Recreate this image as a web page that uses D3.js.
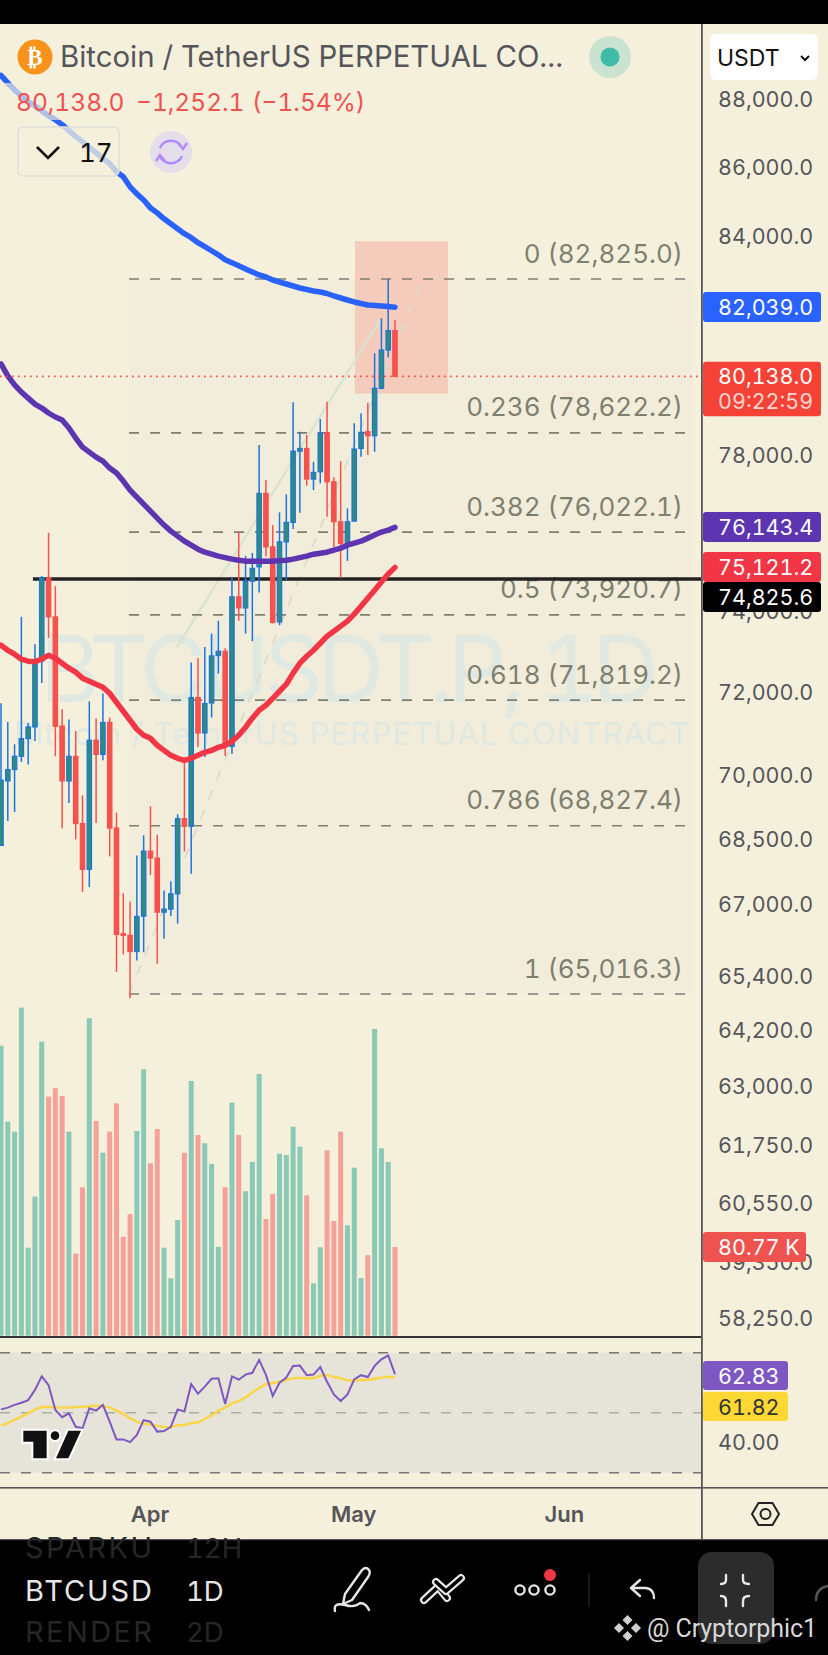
<!DOCTYPE html>
<html>
<head>
<meta charset="utf-8">
<script src="https://cdn.jsdelivr.net/npm/d3@7/dist/d3.min.js"></script>
<style>
  html, body { margin: 0; padding: 0; background: #000; }
  svg { display: block; font-family: Inter, "Noto Sans", sans-serif; font-variant-numeric: tabular-nums; font-feature-settings: "tnum" 1; }
</style>
</head>
<body>
<div id="chart"></div>
<script>
"use strict";

// daily candles, first one is Mar 10
var firstDay = new Date(Date.UTC(2026, 2, 10));
var openPrices = [68370,69880,70150,70465,70890,71170,72780,74855,73870,71190,69880,70465,68880,67820,70850,70510,71280,68775,66357,66320,65959,66754,68239,68078,66844,66912,67259,68994,68815,71880,71025,71749,72911,73016,70703,74373,74097,74771,75134,77025,75643,73747,75772,76273,78136,78207,77400,77592,78624,77330,76289,75731,76307,78207,78651,78544,79816,80857,81390];
var highPrices = [71740,71290,70752,73872,71266,73191,74898,76005,74644,71597,71348,71073,69540,71790,71372,71978,71396,69134,67276,67085,68140,68605,69281,68621,67337,67544,69095,70329,72739,72852,73123,73458,73772,73091,74865,76016,75413,75489,78296,77374,76204,76531,76999,79437,78651,78563,77855,78990,79453,77445,77873,76635,78875,79143,79426,80767,81733,82825,81686];
var lowPrices = [68370,68938,69148,70329,70268,70832,72239,73348,70465,68761,69358,68512,67298,67413,68892,70370,68117,65500,65892,64923,65759,65943,67691,65686,66244,66754,66583,68232,67720,70687,70448,71396,72469,70472,70529,73772,73458,73266,74484,75406,73707,73665,74797,76100,76521,77225,77112,77288,76418,75643,74847,75286,76289,77986,78031,78117,79789,80659,80138];
var closePrices = [69900,70149,70465,70889,71169,72754,74855,73872,71186,69880,70465,68878,67819,70848,70512,71276,68775,66342,66320,65959,66747,68239,68078,66844,66912,67259,68994,68815,71880,71025,71734,72901,73016,70769,74373,74097,74771,75094,77025,75643,73732,75772,76273,78136,78207,77400,77576,78612,77330,76289,75731,76289,78189,78635,78544,79816,80857,81390,80138];

// volume in thousands
var volumes = [264.1,194.9,185.8,298.7,80.1,126.6,267.7,217.6,225.3,218.3,185.8,74.7,135.1,289,195.5,166.6,185.8,211.6,90.1,110.8,186.4,242.6,157,188.2,80.1,52.3,105.4,166.6,231.9,182.8,175.2,156.4,81,135.1,212.2,182.8,131.5,158.2,238.3,106.3,129,165.7,164.5,190.3,172.1,127.8,47.7,80.5,168.8,104.4,185.8,100.5,153,52.5,73.2,279.3,170.6,158.2,80.77];

var maBlue = [88734,88509,88300,88120,87941,87824,87678,87531,87414,87268,87092,86916,86770,86594,86447,86271,86125,85890,85744,85451,85246,85070,84843,84701,84530,84388,84246,84104,83991,83848,83735,83621,83507,83365,83280,83195,83109,83024,82939,82881,82797,82741,82685,82629,82573,82532,82490,82462,82420,82350,82294,82238,82183,82141,82100,82086,82072,82058,82039];
var maPurple = [80476,80150,79906,79715,79552,79391,79284,79151,79044,78964,78750,78483,78242,78110,77978,77873,77689,77558,77348,77112,76928,76746,76565,76384,76204,76048,75920,75790,75687,75584,75507,75456,75406,75368,75330,75304,75279,75279,75279,75279,75279,75292,75304,75330,75368,75406,75456,75482,75507,75558,75611,75687,75740,75790,75868,75946,76024,76076,76143];
var maRed = [73166,73041,72943,72820,72771,72759,72820,72918,72845,72722,72599,72501,72354,72280,72207,72133,71986,71766,71548,71331,71114,70969,70897,70728,70607,70488,70417,70370,70417,70488,70560,70607,70679,70728,70824,70969,71162,71380,71573,71693,71863,72035,72207,72477,72722,72894,73041,73214,73390,73515,73640,73765,73940,74139,74340,74543,74747,74951,75121];

var rsiValues = [51.1,51.7,52.6,53.3,54.2,57.6,62.1,59.2,50.9,48.5,49.8,45.3,44.8,51.5,50.7,52.6,47,41.1,41.1,40.2,42.6,47.5,47,43.7,43.9,45.3,51.1,50.4,59.5,56.3,58.7,61.3,61.5,52.9,62.1,61,62.7,63.3,67.6,62.6,55.6,60,61.7,65.6,65.7,62.5,62.7,65.2,60.3,56.1,53.9,56.1,61.1,62.5,61.9,65.6,67.8,69.1,62.83];
var rsiSmooth = [45.6,46.5,47.6,48.7,49.8,51.1,51.9,52,51.7,51.7,51.7,51.9,51.9,52.2,52.3,52.2,51.8,50.7,49.6,48.1,47,46.3,46.1,45.7,45.2,45.2,45.8,45.9,46.5,46.8,47.9,49.2,50.6,51.7,53.1,53.9,55.1,56.8,58.2,59.5,59.9,60.3,60.9,61.5,61.6,61.5,61.5,62.3,62.5,61.9,61.5,60.7,60.7,60.9,60.9,61.3,61.7,62,61.82];

var priceTicks = [88000,86000,84000,78000,74000,72000,70000,68500,67000,65400,64200,63000,61750,60550,59350,58250];
var monthTicks = [new Date(Date.UTC(2026, 3, 1)), new Date(Date.UTC(2026, 4, 1)), new Date(Date.UTC(2026, 5, 1))];
var fibRatios = ["0", "0.236", "0.382", "0.5", "0.618", "0.786", "1"];
var fibPrices = [82825.0,78622.2,76022.1,73920.7,71819.2,68827.4,65016.3];

// drawings, day is counted from firstDay
var fibStartDay = 18.85;
var fibEndDay = 62;
var horizontalPrice = 74825.6;
var horizontalStartDay = 4.7;
var positionDays = [52.1, 65.8];
var positionPrices = [83890, 79675];
var trendDays = [25.9, 55.8];
var trendPrices = [73116, 81686];

var WIDTH = 828, HEIGHT = 1655;
var CHART_RIGHT = 702;
var BG = "#f4f0dc";
var AXIS_FONT = 21.5;

var dateFromDay = function(d) { return new Date(firstDay.getTime() + d * 864e5); };

var x = d3.scaleUtc().domain([firstDay, dateFromDay(58)]).range([1, 395]);
var y = d3.scaleLog().domain([82825, 65016.3]).range([279, 994]);
var yVolume = d3.scaleLinear().domain([0, 300]).range([1335.7, 1006.2]);
var yRsi = d3.scaleLinear().domain([30, 70]).range([1472.7, 1352.7]);

var xDay = function(d) { return x(dateFromDay(d)); };
var candleDays = d3.range(openPrices.length);

var svg = d3.select("#chart").append("svg").attr("width", WIDTH).attr("height", HEIGHT);

svg.append("rect").attr("width", WIDTH).attr("height", HEIGHT).attr("fill", BG);

// fib background
var fibLeft = xDay(fibStartDay);
svg.append("rect")
  .attr("x", fibLeft).attr("y", y(fibPrices[0]))
  .attr("width", 692 - fibLeft).attr("height", y(fibPrices[6]) - y(fibPrices[0]))
  .attr("fill", "#f1edda");

// symbol watermark
svg.append("text").attr("x", 40).attr("y", 702)
  .attr("font-size", 92).attr("fill", "#dfe8e1").attr("textLength", 619)
  .text("BTCUSDT.P, 1D");
svg.append("text").attr("x", 14).attr("y", 745)
  .attr("font-size", 31).attr("fill", "#dfe8e1").attr("textLength", 675)
  .text("Bitcoin / TetherUS PERPETUAL CONTRACT");

// position box
svg.append("rect")
  .attr("x", xDay(positionDays[0])).attr("y", y(positionPrices[0]))
  .attr("width", xDay(positionDays[1]) - xDay(positionDays[0]))
  .attr("height", y(positionPrices[1]) - y(positionPrices[0]))
  .attr("fill", "#f5cbbc");

// fib trend lines
svg.append("line")
  .attr("x1", xDay(fibStartDay)).attr("y1", y(fibPrices[6]))
  .attr("x2", xDay(fibEndDay)).attr("y2", y(fibPrices[0]))
  .attr("stroke", "#dcdccb").attr("stroke-width", 2).attr("stroke-dasharray", "10 11");
svg.append("line")
  .attr("x1", xDay(trendDays[0])).attr("y1", y(trendPrices[0]))
  .attr("x2", xDay(trendDays[1])).attr("y2", y(trendPrices[1]))
  .attr("stroke", "#dbe2cf").attr("stroke-width", 2.5);

// fib levels
var fibs = svg.append("g").selectAll("g").data(fibPrices).enter().append("g");
fibs.append("line")
  .attr("x1", fibLeft).attr("x2", 692)
  .attr("y1", function(d) { return y(d); }).attr("y2", function(d) { return y(d); })
  .attr("stroke", "#7f7f70").attr("stroke-width", 1.7).attr("stroke-dasharray", "10 11");
fibs.append("text")
  .attr("x", 683).attr("y", function(d) { return y(d) - 16.5; })
  .attr("text-anchor", "end").attr("font-size", 26).attr("fill", "#7f7f70")
  .text(function(d, i) { return fibRatios[i] + " (" + d3.format(",.1f")(d) + ")"; });

// black horizontal line
svg.append("line")
  .attr("x1", xDay(horizontalStartDay)).attr("x2", CHART_RIGHT)
  .attr("y1", y(horizontalPrice)).attr("y2", y(horizontalPrice))
  .attr("stroke", "#222").attr("stroke-width", 3.5);

// volume
svg.append("g").selectAll("rect").data(volumes).enter().append("rect")
  .attr("x", function(d, i) { return xDay(i) - 2.5; })
  .attr("y", function(d) { return yVolume(d); })
  .attr("width", 5)
  .attr("height", function(d) { return yVolume(0) - yVolume(d); })
  .attr("fill", function(d, i) { return closePrices[i] >= openPrices[i] ? "#8ac9b6" : "#f4a299"; });

// candles
var isUp = function(i) { return closePrices[i] >= openPrices[i]; };
var candles = svg.append("g").selectAll("g").data(candleDays).enter().append("g");
candles.append("line")
  .attr("x1", function(i) { return xDay(i); }).attr("x2", function(i) { return xDay(i); })
  .attr("y1", function(i) { return y(highPrices[i]); }).attr("y2", function(i) { return y(lowPrices[i]); })
  .attr("stroke", function(i) { return isUp(i) ? "#1c74dc" : "#f4524d"; })
  .attr("stroke-width", 1.5);
candles.append("rect")
  .attr("x", function(i) { return xDay(i) - 2.2; })
  .attr("y", function(i) { return Math.min(y(openPrices[i]), y(closePrices[i])); })
  .attr("width", 4.4)
  .attr("height", function(i) { return Math.max(1.5, Math.abs(y(openPrices[i]) - y(closePrices[i]))); })
  .attr("fill", function(i) { return isUp(i) ? "#2f8b7c" : "#f4524d"; })
  .attr("stroke", function(i) { return isUp(i) ? "#1c74dc" : "#f4524d"; })
  .attr("stroke-width", 1.2);

// moving averages
var maLine = d3.line()
  .x(function(d, i) { return xDay(i); })
  .y(function(d) { return y(d); });
[[maBlue, "#2962ff"], [maPurple, "#5e35b1"], [maRed, "#f23645"]].forEach(function(m) {
  svg.append("path").attr("d", maLine(m[0]))
    .attr("fill", "none").attr("stroke", m[1]).attr("stroke-width", 5.5)
    .attr("stroke-linecap", "round").attr("stroke-linejoin", "round");
});

// last price line
svg.append("line")
  .attr("x1", 0).attr("x2", CHART_RIGHT)
  .attr("y1", y(closePrices[58])).attr("y2", y(closePrices[58]))
  .attr("stroke", "#f4473f").attr("stroke-width", 1.6).attr("stroke-dasharray", "1.6 4.4");

// rsi pane
svg.append("rect").attr("x", 0).attr("y", yRsi(70)).attr("width", CHART_RIGHT).attr("height", yRsi(30) - yRsi(70)).attr("fill", "#e6e3d8");
svg.append("g").selectAll("line").data([70, 50, 30]).enter().append("line")
  .attr("x1", 0).attr("x2", CHART_RIGHT)
  .attr("y1", function(d) { return yRsi(d); }).attr("y2", function(d) { return yRsi(d); })
  .attr("stroke", function(d) { return d === 50 ? "#aeaca4" : "#77777a"; })
  .attr("stroke-width", 1.6).attr("stroke-dasharray", "10 11");
var rsiLine = d3.line().x(function(d, i) { return xDay(i); }).y(function(d) { return yRsi(d); });
svg.append("path").attr("d", rsiLine(rsiSmooth)).attr("fill", "none").attr("stroke", "#fbd545").attr("stroke-width", 2.4);
svg.append("path").attr("d", rsiLine(rsiValues)).attr("fill", "none").attr("stroke", "#7e57c2").attr("stroke-width", 2);

// tradingview logo
var logo = svg.append("g").attr("transform", "translate(0,1265) scale(0.3333)")
  .attr("fill", "#111").attr("stroke", "#fff").attr("stroke-width", 12).style("paint-order", "stroke");
logo.append("path").attr("d", "M70 497H140V580H100V530H70Z");
logo.append("circle").attr("cx", 165).attr("cy", 512).attr("r", 13);
logo.append("path").attr("d", "M205 497H243L205 580H168Z");

// legend: translucent boxes knock back the blue line
svg.append("rect").attr("x", 0).attr("y", 83).attr("width", 366).attr("height", 37).attr("fill", BG).attr("opacity", 0.65);
svg.append("rect").attr("x", 18).attr("y", 127).attr("width", 101).attr("height", 49).attr("rx", 5)
  .attr("fill", BG).attr("fill-opacity", 0.75).attr("stroke", "#dededa").attr("stroke-width", 1.5);
svg.append("circle").attr("cx", 35).attr("cy", 57).attr("r", 17.5).attr("fill", "#f7931a");
svg.append("text").attr("x", 35).attr("y", 65).attr("text-anchor", "middle").attr("font-size", 23).attr("font-weight", 700).attr("fill", "#fff").attr("font-family", "DejaVu Sans").text("\u20bf");
svg.append("text").attr("x", 60).attr("y", 67).attr("font-size", 29.4).attr("fill", "#55555a").text("Bitcoin / TetherUS PERPETUAL CO...");
svg.append("circle").attr("cx", 610).attr("cy", 57).attr("r", 21).attr("fill", "#c9e3d0");
svg.append("circle").attr("cx", 610).attr("cy", 57).attr("r", 9.5).attr("fill", "#40bba5");
var legendRed = "#ef5350";
svg.append("text").attr("x", 16).attr("y", 111).attr("font-size", 24.5).attr("fill", legendRed).text("80,138.0");
svg.append("text").attr("x", 136).attr("y", 111).attr("font-size", 24.5).attr("fill", legendRed).text("\u22121,252.1");
svg.append("text").attr("x", 252).attr("y", 111).attr("font-size", 24.5).attr("fill", legendRed).text("(\u22121.54%)");
svg.append("path").attr("d", "M37 147L48 158L59 147").attr("fill", "none").attr("stroke", "#111").attr("stroke-width", 2.6);
svg.append("text").attr("x", 79).attr("y", 162).attr("font-size", 26).attr("fill", "#111").text("17");
svg.append("circle").attr("cx", 171).attr("cy", 152).attr("r", 21).attr("fill", "#e3deea");
svg.append("path").attr("d", "M160 148A12 12 0 0 1 182 148M182 156A12 12 0 0 1 160 156M178 143L183 149L187 143M156 161L160 155L165 161")
  .attr("fill", "none").attr("stroke", "#b388ff").attr("stroke-width", 2.4);

// axis frame
svg.append("rect").attr("x", 0).attr("y", 1336).attr("width", CHART_RIGHT).attr("height", 2).attr("fill", "#333");
svg.append("rect").attr("x", 0).attr("y", 1487).attr("width", WIDTH).attr("height", 1.6).attr("fill", "#555");
svg.append("rect").attr("x", 701).attr("y", 24).attr("width", 1.8).attr("height", 1516).attr("fill", "#555");

// price axis
var priceAxis = d3.axisRight(y).tickValues(priceTicks).tickSize(0).tickPadding(16).tickFormat(d3.format(",.1f"));
var gPrice = svg.append("g").attr("transform", "translate(702,0)").call(priceAxis);
gPrice.select(".domain").remove();
gPrice.selectAll("text").attr("font-size", AXIS_FONT).attr("fill", "#55555a").attr("font-family", "Inter").attr("dy", "0.3em");

svg.append("text").attr("x", 718).attr("y", 1450).attr("font-size", AXIS_FONT).attr("fill", "#55555a").text("40.00");

// time axis
var timeAxis = d3.axisBottom(x).tickValues(monthTicks).tickSize(0).tickPadding(0).tickFormat(d3.utcFormat("%b"));
var gTime = svg.append("g").attr("transform", "translate(-1,1506)").call(timeAxis);
gTime.select(".domain").remove();
gTime.selectAll("text").attr("font-size", 22).attr("font-weight", 600).attr("fill", "#55555a").attr("font-family", "Inter");

svg.append("path").attr("d", "M752 1514L758.5 1503H772.5L779 1514L772.5 1525H758.5Z").attr("fill", "none").attr("stroke", "#222").attr("stroke-width", 2);
svg.append("circle").attr("cx", 765.5).attr("cy", 1514).attr("r", 5).attr("fill", "none").attr("stroke", "#222").attr("stroke-width", 2);

// tags on the axis
var tags = [
  { top: 292, h: 30, fill: "#2962ff", label: "82,039.0", color: "#fff" },
  { top: 512, h: 30, fill: "#5e35b1", label: "76,143.4", color: "#fff" },
  { top: 552, h: 30, fill: "#f23645", label: "75,121.2", color: "#fff" },
  { top: 582, h: 30, fill: "#000", label: "74,825.6", color: "#fff" },
  { top: 1232, h: 30, fill: "#ef5350", label: "80.77 K", color: "#fff", w: 103 },
  { top: 1361, h: 29, fill: "#7e57c2", label: "62.83", color: "#fff", w: 85 },
  { top: 1392, h: 29, fill: "#fdd835", label: "61.82", color: "#333", w: 85 }
];
tags.forEach(function(t) {
  svg.append("rect").attr("x", 703).attr("y", t.top).attr("width", t.w || 118).attr("height", t.h).attr("rx", 3).attr("fill", t.fill);
  svg.append("text").attr("x", 718).attr("y", t.top + t.h / 2 + 8).attr("font-size", AXIS_FONT).attr("fill", t.color).text(t.label);
});
svg.append("rect").attr("x", 703).attr("y", 361.7).attr("width", 118).attr("height", 54.5).attr("rx", 3).attr("fill", "#f44336");
svg.append("text").attr("x", 718).attr("y", 384).attr("font-size", AXIS_FONT).attr("fill", "#fff").text("80,138.0");
svg.append("text").attr("x", 718).attr("y", 409).attr("font-size", AXIS_FONT).attr("fill", "#fbd3cf").text("09:22:59");

// currency button
svg.append("rect").attr("x", 710).attr("y", 34).attr("width", 108).attr("height", 46).attr("rx", 6).attr("fill", "#fff");
svg.append("text").attr("x", 717).attr("y", 66).attr("font-size", 23).attr("fill", "#111").text("USDT");
svg.append("path").attr("d", "M801 56L805 60L809 56").attr("fill", "none").attr("stroke", "#111").attr("stroke-width", 2);

// app chrome
svg.append("rect").attr("width", WIDTH).attr("height", 24).attr("fill", "#000");
svg.append("rect").attr("y", 1540).attr("width", WIDTH).attr("height", 115).attr("fill", "#000");
svg.append("rect").attr("y", 1539).attr("width", WIDTH).attr("height", 1.2).attr("fill", "#555");
svg.append("rect").attr("x", 698).attr("y", 1552).attr("width", 76).attr("height", 92).attr("rx", 14).attr("fill", "#2c2c2c");

var bottomRows = [["SPARKU", "12H", 1558, "#262626"], ["BTCUSD", "1D", 1601, "#e6e6e6"], ["RENDER", "2D", 1642, "#262626"]];
bottomRows.forEach(function(r) {
  svg.append("text").attr("x", 25).attr("y", r[2]).attr("font-size", 29).attr("fill", r[3]).attr("textLength", 127).text(r[0]);
  svg.append("text").attr("x", 186).attr("y", r[2]).attr("font-size", 27.5).attr("fill", r[3]).text(r[1]);
});

var icons = svg.append("g").attr("fill", "none").attr("stroke", "#e6e6e6").attr("stroke-width", 2.4).attr("stroke-linecap", "round").attr("stroke-linejoin", "round");
icons.append("path").attr("d", "M345 1594L362 1570Q366 1566 369 1570Q371 1573 368 1577L352 1600L343 1604ZM335 1611Q333 1602 345 1605Q355 1608 360 1603Q366 1603 369 1610");
// zigzag tool, drawn as a fat line with a black core
["M424 1600L438 1587L447 1598", "M436 1582L446 1591L461 1578"].forEach(function(d) {
  icons.append("path").attr("d", d).attr("stroke-width", 8);
  icons.append("path").attr("d", d).attr("stroke", "#000").attr("stroke-width", 3.6);
});
[520, 534, 550].forEach(function(cx) { icons.append("circle").attr("cx", cx).attr("cy", 1590).attr("r", 4.6); });
icons.append("path").attr("d", "M640 1580L631 1588L640 1596M631 1588H646Q654 1589 654 1598");
icons.append("path").attr("d", "M726 1575V1580Q726 1584 721 1584M743 1575V1580Q743 1584 749 1584M721 1596Q726 1596 726 1601V1606M749 1596Q743 1596 743 1601V1606");
icons.append("path").attr("d", "M816 1600Q816 1588 828 1586").attr("stroke", "#555");
svg.append("circle").attr("cx", 550).attr("cy", 1575).attr("r", 6).attr("fill", "#f23645");
svg.append("rect").attr("x", 588.5).attr("y", 1573).attr("width", 1).attr("height", 34).attr("fill", "#333");

var diamond = svg.append("g").attr("fill", "#cfcfcf");
[[627.5, 1620], [619, 1628], [636, 1628], [627.5, 1636]].forEach(function(c) {
  diamond.append("path").attr("d", "M" + c[0] + " " + (c[1] - 5) + "L" + (c[0] + 5) + " " + c[1] + "L" + c[0] + " " + (c[1] + 5) + "L" + (c[0] - 5) + " " + c[1] + "Z");
});
svg.append("text").attr("x", 647).attr("y", 1637).attr("font-size", 25).attr("fill", "#d8d8d8").attr("font-family", "Roboto").attr("textLength", 170).text("@ Cryptorphic1");
</script>
</body>
</html>
